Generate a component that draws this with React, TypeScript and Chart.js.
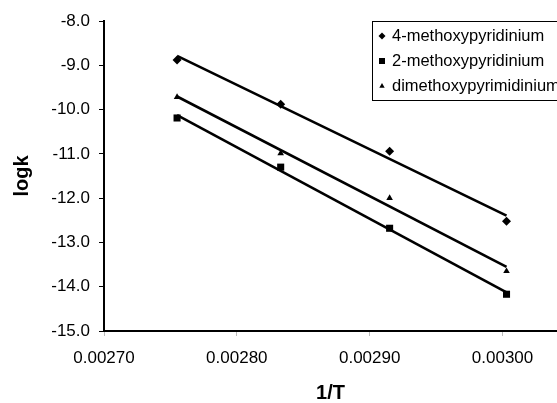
import React, { useEffect, useRef } from 'react';
import { Chart, registerables } from 'chart.js';

Chart.register(...registerables);

// 1/T values (K^-1)
const invT = [0.002755, 0.002833, 0.002915, 0.003003];
// log k values
const methoxy4 = [-8.88, -9.88, -10.94, -12.52];
const methoxy2 = [-10.19, -11.3, -12.68, -14.17];
const dimethoxy = [-9.72, -10.99, -12.0, -13.65];
const seriesNames = ['4-methoxypyridinium', '2-methoxypyridinium', 'dimethoxypyrimidinium'];
const seriesStyles = ['rectRot', 'rect', 'triangle'];
const xTickValues = [0.0027, 0.0028, 0.0029, 0.003];
const yTickValues = [-15, -14, -13, -12, -11, -10, -9, -8];

const FONT = "'Liberation Sans', Arial, sans-serif";

function fitLine(xs: number[], ys: number[]) {
  const n = xs.length;
  const mx = xs.reduce((a, b) => a + b, 0) / n;
  const my = ys.reduce((a, b) => a + b, 0) / n;
  let sxy = 0;
  let sxx = 0;
  for (let i = 0; i < n; i++) {
    sxy += (xs[i] - mx) * (ys[i] - my);
    sxx += (xs[i] - mx) * (xs[i] - mx);
  }
  const b = sxy / sxx;
  const a = my - b * mx;
  return [
    { x: xs[0], y: a + b * xs[0] },
    { x: xs[n - 1], y: a + b * xs[n - 1] },
  ];
}

function drawMarker(ctx: CanvasRenderingContext2D, style: string, x: number, y: number) {
  ctx.beginPath();
  if (style === 'rectRot') {
    const r = 3.5;
    ctx.moveTo(x, y - r);
    ctx.lineTo(x + r, y);
    ctx.lineTo(x, y + r);
    ctx.lineTo(x - r, y);
    ctx.closePath();
  } else if (style === 'rect') {
    const s = 3;
    ctx.rect(x - s, y - s, 2 * s, 2 * s);
  } else {
    const r = 3;
    ctx.moveTo(x, y - r);
    ctx.lineTo(x + r * 0.9, y + r * 0.6);
    ctx.lineTo(x - r * 0.9, y + r * 0.6);
    ctx.closePath();
  }
  ctx.fill();
}

const legendPlugin = {
  id: 'insideLegend',
  afterDraw(chart: any) {
    const ctx = chart.ctx as CanvasRenderingContext2D;
    const area = chart.chartArea;
    const boxLeft = 372;
    const boxTop = area.top;
    const boxH = 79;
    ctx.save();
    ctx.fillStyle = '#fff';
    ctx.fillRect(boxLeft, boxTop, 300, boxH);
    ctx.strokeStyle = '#000';
    ctx.lineWidth = 1;
    ctx.strokeRect(boxLeft + 0.5, boxTop + 0.5, 300, boxH);
    ctx.fillStyle = '#000';
    ctx.font = `16.5px ${FONT}`;
    ctx.textBaseline = 'middle';
    ctx.textAlign = 'left';
    seriesNames.forEach((name, i) => {
      const y = boxTop + 15 + i * 25;
      drawMarker(ctx, seriesStyles[i], 382, y);
      ctx.fillText(name, 392, y);
    });
    ctx.restore();
  },
};

const whiteBg = {
  id: 'whiteBg',
  beforeDraw(chart: any) {
    const ctx = chart.ctx;
    ctx.save();
    ctx.fillStyle = '#fff';
    ctx.fillRect(0, 0, chart.width, chart.height);
    ctx.restore();
  },
};

export default function App() {
  const ref = useRef<HTMLCanvasElement | null>(null);

  useEffect(() => {
    if (!ref.current) return;
    const allSeries = [methoxy4, methoxy2, dimethoxy];
    const pointSets = allSeries.map((ys, i) => ({
      type: 'scatter' as const,
      label: seriesNames[i],
      data: invT.map((x, j) => ({ x, y: ys[j] })),
      pointStyle: seriesStyles[i],
      pointRadius: i === 0 ? 4.5 : i === 1 ? 5 : 3.8,
      pointHoverRadius: 0,
      pointBackgroundColor: '#000',
      pointBorderColor: '#000',
      pointBorderWidth: 0,
      showLine: false,
      order: 0,
    }));
    const lineSets = allSeries.map((ys, i) => ({
      type: 'line' as const,
      label: seriesNames[i] + ' trend',
      data: fitLine(invT, ys),
      borderColor: '#000',
      borderWidth: 2.6,
      pointRadius: 0,
      pointHoverRadius: 0,
      fill: false,
      tension: 0,
      order: 1,
    }));

    const chart = new Chart(ref.current, {
      type: 'scatter',
      data: { datasets: [...pointSets, ...lineSets] as any },
      plugins: [whiteBg, legendPlugin],
      options: {
        animation: false,
        responsive: false,
        maintainAspectRatio: false,
        layout: { autoPadding: false, padding: { top: 21, right: 0, bottom: 0, left: 0 } },
        plugins: { legend: { display: false }, tooltip: { enabled: false } },
        scales: {
          x: {
            type: 'linear',
            min: 0.0027,
            max: 0.003041,
            afterBuildTicks: (scale: any) => {
              scale.ticks = xTickValues.map((v) => ({ value: v }));
            },
            afterFit: (scale: any) => {
              scale.height = 72;
              scale.paddingLeft = 0;
              scale.paddingRight = 0;
            },
            ticks: {
              color: '#000',
              font: { family: FONT, size: 17 },
              padding: 12,
              maxRotation: 0,
              callback: (v: any) => Number(v).toFixed(5),
            },
            grid: {
              display: true,
              drawOnChartArea: false,
              drawTicks: true,
              tickLength: 5,
              tickColor: '#bbb',
              tickWidth: 1,
            },
            border: { display: true, color: '#000', width: 2 },
            title: {
              display: true,
              text: '1/T',
              color: '#000',
              font: { family: FONT, size: 20, weight: 'bold', lineHeight: 1 },
              padding: { top: 0, bottom: 0 },
            },
          },
          y: {
            type: 'linear',
            min: -15,
            max: -8,
            afterBuildTicks: (scale: any) => {
              scale.ticks = yTickValues.map((v) => ({ value: v }));
            },
            afterFit: (scale: any) => {
              scale.width = 104;
            },
            ticks: {
              color: '#000',
              font: { family: FONT, size: 17 },
              padding: 9,
              callback: (v: any) => Number(v).toFixed(1),
            },
            grid: {
              display: true,
              drawOnChartArea: false,
              drawTicks: true,
              tickLength: 5,
              tickColor: '#000',
              tickWidth: 1,
            },
            border: { display: true, color: '#000', width: 2 },
            title: {
              display: true,
              text: 'logk',
              color: '#000',
              font: { family: FONT, size: 20, weight: 'bold', lineHeight: 1 },
              padding: { top: 12, bottom: 0 },
            },
          },
        },
      } as any,
    });
    return () => chart.destroy();
  }, []);

  return (
    <div style={{ position: 'absolute', left: 0, top: 0, width: 557, height: 403, background: '#fff' }}>
      <canvas ref={ref} width={557} height={403} style={{ display: 'block', width: 557, height: 403 }} />
    </div>
  );
}
